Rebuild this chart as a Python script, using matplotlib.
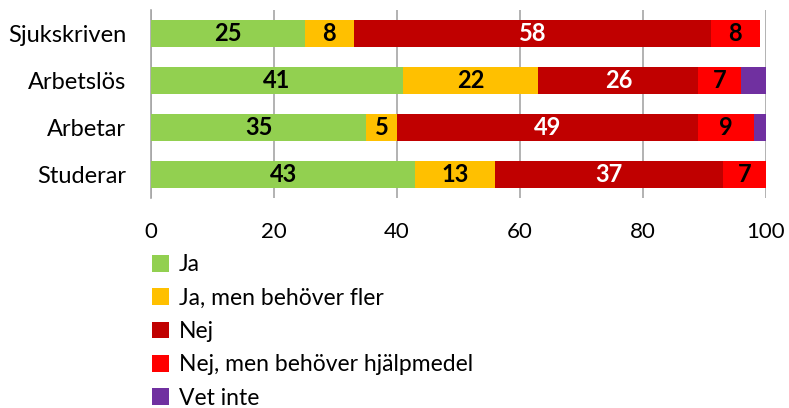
import matplotlib
matplotlib.use("Agg")
import matplotlib.pyplot as plt
from matplotlib.patches import Patch

categories = ["Sjukskriven", "Arbetslös", "Arbetar", "Studerar"]
series_names = ["Ja", "Ja, men behöver fler", "Nej", "Nej, men behöver hjälpmedel", "Vet inte"]
ja = [25, 41, 35, 43]
ja_fler = [8, 22, 5, 13]
nej = [58, 26, 49, 37]
nej_hjalp = [8, 7, 9, 7]
vet_inte = [0, 4, 2, 0]
xticks = [0, 20, 40, 60, 80, 100]

colors = ["#92D050", "#FFC000", "#C00000", "#FF0000", "#7030A0"]
label_colors = ["black", "black", "white", "black", None]
series = [ja, ja_fler, nej, nej_hjalp, vet_inte]

plt.rcParams['font.family'] = ['Lato', 'DejaVu Sans']

fig = plt.figure(figsize=(7.89, 4.08), dpi=100)
ax = fig.add_axes([151/789, 1-198/408, 615/789, 188/408])

ypos = [3 - i for i in range(len(categories))]
left = [0]*len(categories)
for vals, col, lc in zip(series, colors, label_colors):
    ax.barh(ypos, vals, left=left, color=col, height=0.57, zorder=3)
    if lc is not None:
        for y, l, v in zip(ypos, left, vals):
            if v > 0:
                ax.text(l + v/2, y, str(v), ha='center', va='center', color=lc,
                        fontsize=17, fontweight='bold', zorder=4)
    left = [a + b for a, b in zip(left, vals)]

ax.set_xlim(0, 100)
ax.set_ylim(-0.5, 3.5)
ax.set_xticks(xticks)
ax.set_xticklabels([str(t) for t in xticks], fontsize=16)
ax.set_yticks(ypos)
ax.set_yticklabels(categories, fontsize=17)
ax.tick_params(axis='y', length=0, pad=18)
ax.tick_params(axis='x', length=0, pad=17)
ax.xaxis.grid(True, color='#A6A6A6', linewidth=1.2, zorder=0)
for s in ['top', 'right', 'bottom']:
    ax.spines[s].set_visible(False)
ax.spines['left'].set_color('#A6A6A6')
ax.spines['left'].set_linewidth(1.2)

handles = [Patch(facecolor=c, edgecolor='none') for c in colors]
fig.legend(handles, series_names, loc='upper left', bbox_to_anchor=(143/789, 1-245/408),
           frameon=False, fontsize=16.5, handlelength=0.75, handleheight=0.75,
           handletextpad=0.4, labelspacing=0.54, borderaxespad=0)

fig.savefig("out.png", dpi=100)
